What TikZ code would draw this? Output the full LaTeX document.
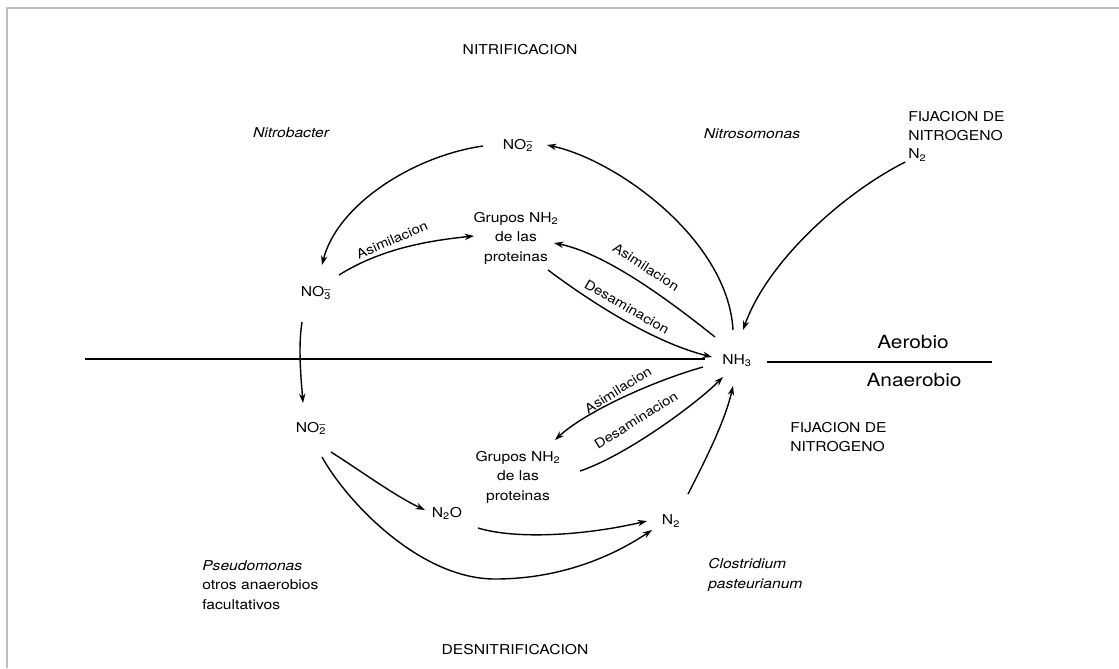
\documentclass[tikz,border=0pt]{standalone}
\usepackage{fontspec}
\setmainfont[FakeStretch=1.15]{TeX Gyre Heros}
\usetikzlibrary{arrows.meta,calc}
% nitrite / nitrate ion: subscript and charge stacked
\newcommand\nitrion[1]{NO\rlap{\textsubscript{#1}}\textsuperscript{–}}
\begin{document}
\begin{tikzpicture}[x=0.75pt,y=-0.75pt,
  lbl/.style={inner sep=0pt, font=\fontsize{10.2}{14.6}\selectfont},
  ital/.style={inner sep=0pt, font=\fontsize{10.2}{14.6}\selectfont\itshape},
  big/.style={inner sep=0pt, font=\fontsize{13.6}{16}\selectfont},
  tilt/.style={inner sep=0pt, rotate=#1, font=\fontsize{9.8}{12}\selectfont},
  flow/.style={line width=1.05pt, -{Stealth[length=7pt,width=4.8pt]}},
  rule/.style={line width=1.3pt},
  frame/.style={draw=black!25, line width=1.5pt}]
\useasboundingbox (0,0) rectangle (1119,668);
\draw[frame] (1119,8) -- (7,8) -- (7,668);

% headings and organisms
\node[lbl] (nitri) at (520,50) {NITRIFICACION};
\node[lbl] (desn) at (515,650) {DESNITRIFICACION};
\node[ital] (nbac) at (291,133) {Nitrobacter};
\node[ital] (nsom) at (752,134) {Nitrosomonas};
\node[ital, align=left, anchor=west] (clos) at (708,575) {Clostridium\\pasteurianum};
\node[lbl, align=left, anchor=west] (pseu) at (202,585) {\textit{Pseudomonas}\\otros anaerobios\\facultativos};

% compounds
\node[lbl] (no2a) at (518,145) {\nitrion{2}};
\node[lbl] (no3) at (316,293) {\nitrion{3}};
\node[lbl] (nh3) at (737,361) {NH\textsubscript{3}};
\node[lbl] (no2b) at (311,428) {\nitrion{2}};
\node[lbl] (n2o) at (447,513) {N\textsubscript{2}O};
\node[lbl] (n2b) at (671,521) {N\textsubscript{2}};
\node[lbl, align=center] (grpa) at (516,238) {Grupos NH\textsubscript{2}\\de las\\proteinas};
\node[lbl, align=center] (grpb) at (518,477) {Grupos NH\textsubscript{2}\\de las\\proteinas};
\node[lbl, align=left, anchor=west] (fixa) at (908,126) {FIJACION DE\\NITROGENO};
\node[lbl, anchor=west] (n2a) at (908,155) {N\textsubscript{2}};
\node[lbl, align=left, anchor=west] (fixb) at (790,437) {FIJACION DE\\NITROGENO};

% aerobic / anaerobic boundary
\node[big] (aer) at (913,342) {Aerobio};
\node[big] (anaer) at (914,380) {Anaerobio};
\coordinate (hl) at (85,359);
\coordinate (hr) at (992,362);
\draw[rule] (hl) -- ([shift={(-32,-2)}]nh3.center);
\draw[rule] ([shift={(30,1)}]nh3.center) -- (hr);

% reaction labels
\node[tilt=23] (as1) at (392,240) {Asimilacion};
\node[tilt=-33] (as2) at (646,267) {Asimilacion};
\node[tilt=-30] (de2) at (627,307) {Desaminacion};
\node[tilt=32] (as3) at (618,390) {Asimilacion};
\node[tilt=32] (de3) at (636,420) {Desaminacion};

% nitrification
\draw[flow] ([shift={(-4,-31)}]nh3.center) .. controls +(-5,-90) and +(70,15) .. ([shift={(29,0)}]no2a.center);
\draw[flow] ([shift={(-35,1)}]no2a.center) .. controls +(-70,10) and +(15,-60) .. ([shift={(6,-28)}]no3.center);
\draw[flow] ([shift={(23,-18)}]no3.center) .. controls +(40,-25) and +(-50,5) .. ([shift={(-42,-2)}]grpa.center);
\draw[flow] ([shift={(-22,-24)}]nh3.center) .. controls +(-50,-40) and +(50,10) .. ([shift={(38,5)}]grpa.center);
\draw[flow] ([shift={(32,32)}]grpa.center) .. controls +(40,30) and +(-60,-15) .. ([shift={(-25,-4)}]nh3.center);
\draw[flow] ([shift={(-12,7)}]n2a.center) .. controls +(-60,30) and +(25,-70) .. ([shift={(6,-31)}]nh3.center);

% denitrification and fixation
\draw[flow] ([shift={(-14,29)}]no3.center) .. controls +(-4,25) and +(-2,-25) .. ([shift={(-8,-25)}]no2b.center);
\draw[flow] ([shift={(-34,6)}]nh3.center) .. controls +(-50,14) and +(30,-28) .. ([shift={(37,-37)}]grpb.center);
\draw[flow] ([shift={(62,-6)}]grpb.center) .. controls +(45,-15) and +(-28,28) .. ([shift={(-14,16)}]nh3.center);
\draw[flow] ([shift={(17,-27)}]n2b.center) .. controls +(18,-35) and +(-8,35) .. ([shift={(-4,25)}]nh3.center);
\draw[flow] ([shift={(20,24)}]no2b.center) .. controls +(30,19) and +(-30,-14) .. ([shift={(-22,-3)}]n2o.center);
\draw[flow] ([shift={(11,29)}]no2b.center) .. controls +(25,45) and (420,579) .. (495,579)
  .. controls (555,579) and +(-45,30) .. ([shift={(-19,9)}]n2b.center);
\draw[flow] ([shift={(31,15)}]n2o.center) .. controls +(40,12) and +(-60,14) .. ([shift={(-24,0)}]n2b.center);
\end{tikzpicture}
\end{document}
